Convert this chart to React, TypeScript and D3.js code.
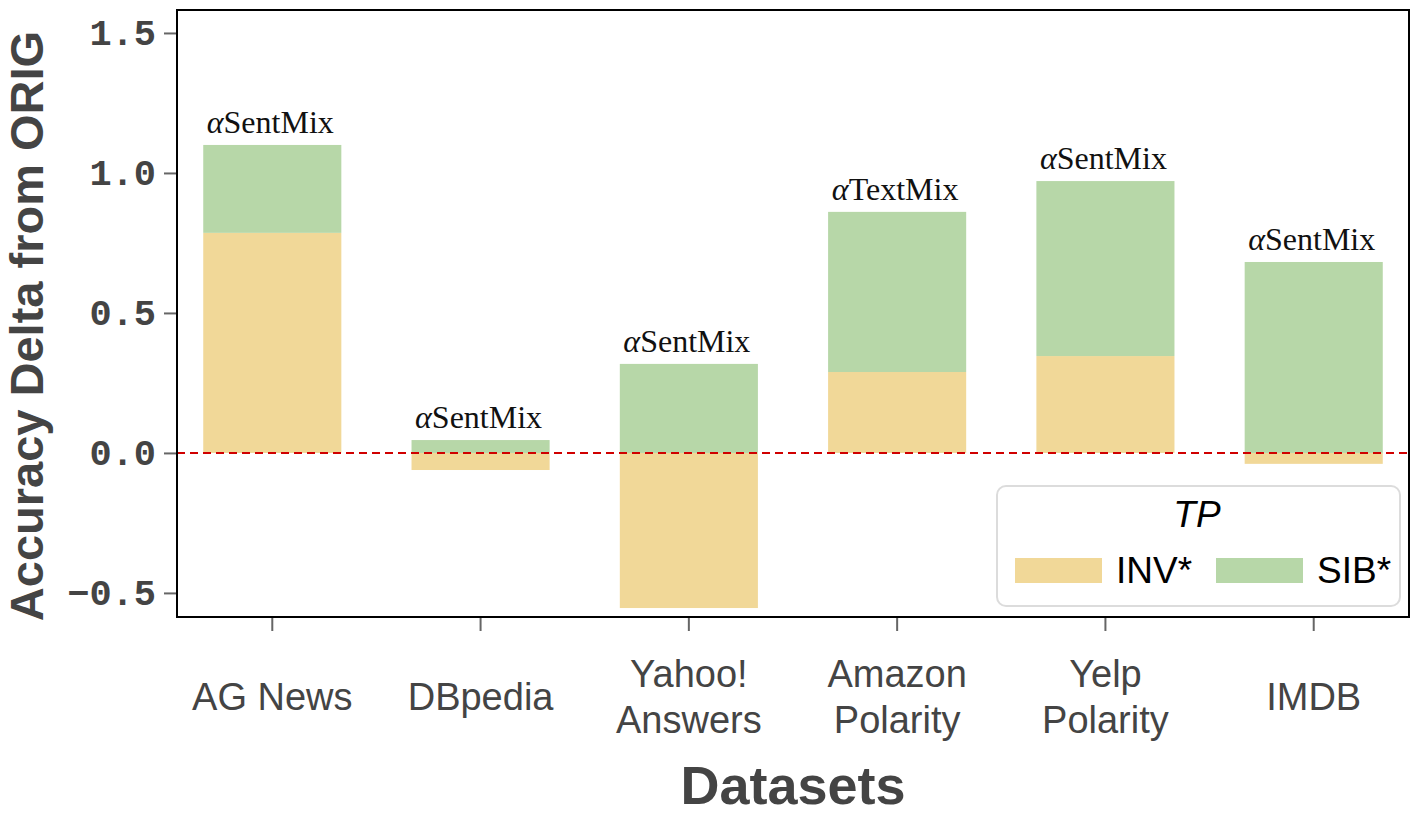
import { useRef, useEffect } from "react";
import * as d3 from "d3";

const datasets = ["AG News", "DBpedia", "Yahoo! Answers", "Amazon Polarity", "Yelp Polarity", "IMDB"];
const datasetLines = [["AG News"], ["DBpedia"], ["Yahoo!", "Answers"], ["Amazon", "Polarity"], ["Yelp", "Polarity"], ["IMDB"]];
const invValues = [0.786, -0.061, -0.554, 0.289, 0.346, -0.039];
const sibValues = [0.314, 0.046, 0.318, 0.572, 0.625, 0.682];
const bestMethods = ["SentMix", "SentMix", "SentMix", "TextMix", "SentMix", "SentMix"];
const yTicks = [-0.5, 0, 0.5, 1.0, 1.5];
const seriesKeys = ["INV*", "SIB*"];
const seriesColors = ["#f1d898", "#b7d7a8"];

export default function App() {
  const svgRef = useRef<SVGSVGElement>(null);

  useEffect(() => {
    if (!svgRef.current) return;
    const svg = d3.select(svgRef.current);
    svg.selectAll("*").remove();

    const W = 1418, H = 817;
    const left = 177, right = 1409, top = 10, bottom = 617;
    svg.attr("width", W).attr("height", H);

    const x = d3.scaleBand().domain(datasets).range([left, right]).paddingInner(0.337).paddingOuter(0.126);
    const y = d3.scaleLinear().domain([-0.586, 1.582]).range([bottom, top]);

    const rows = datasets.map((d, i) => ({ name: d, "INV*": invValues[i], "SIB*": sibValues[i] }));
    const stacked = d3.stack<any>().keys(seriesKeys).offset(d3.stackOffsetDiverging)(rows);
    const color = d3.scaleOrdinal<string>().domain(seriesKeys).range(seriesColors);

    // bars
    stacked.forEach(layer => {
      svg.append("g").selectAll("rect").data(layer).enter().append("rect")
        .attr("x", d => x(d.data.name)!)
        .attr("width", x.bandwidth())
        .attr("y", d => y(Math.max(d[0], d[1])))
        .attr("height", d => Math.abs(y(d[0]) - y(d[1])))
        .attr("fill", color(layer.key));
    });

    // zero line
    svg.append("line")
      .attr("x1", left).attr("x2", right)
      .attr("y1", y(0)).attr("y2", y(0))
      .attr("stroke", "#d00000").attr("stroke-width", 2).attr("stroke-dasharray", "8,5");

    // best-method labels above each bar
    const topOf = datasets.map((_, i) => Math.max(0, ...stacked.map(l => Math.max(l[i][0], l[i][1]))));
    const lbl = svg.append("g").selectAll("text").data(datasets).enter().append("text")
      .attr("x", d => x(d)! + x.bandwidth() / 2 - 2)
      .attr("y", (_, i) => y(topOf[i]) - 12)
      .attr("text-anchor", "middle")
      .attr("font-family", "'Liberation Serif', 'Times New Roman', serif")
      .attr("font-size", 32)
      .attr("fill", "#111");
    lbl.append("tspan").attr("font-style", "italic").text("α");
    lbl.append("tspan").text((_, i) => bestMethods[i]);

    // frame
    svg.append("rect")
      .attr("x", left).attr("y", top).attr("width", right - left).attr("height", bottom - top)
      .attr("fill", "none").attr("stroke", "#000").attr("stroke-width", 2);

    // y axis
    svg.append("g").attr("transform", `translate(${left - 1},0)`)
      .call(d3.axisLeft(y).tickValues(yTicks).tickSize(12).tickPadding(8).tickFormat(d => d3.format(".1f")(d as number)))
      .call(gEl => {
        gEl.select(".domain").remove();
        gEl.selectAll("line").attr("stroke", "#666").attr("stroke-width", 2);
        gEl.selectAll("text").attr("fill", "#444").attr("font-size", 37).attr("font-weight", "bold")
          .attr("font-family", "'Liberation Mono', 'Courier New', monospace");
      });

    // x axis
    const xAxis = svg.append("g").attr("transform", `translate(0,${bottom + 1})`)
      .call(d3.axisBottom(x).tickSize(13).tickFormat(() => ""))
      .call(gEl => {
        gEl.select(".domain").remove();
        gEl.selectAll("line").attr("stroke", "#666").attr("stroke-width", 2);
      });
    xAxis.selectAll(".tick").each(function (_, i) {
      const lines = datasetLines[i];
      const t = d3.select(this).append("text")
        .attr("text-anchor", "middle")
        .attr("fill", "#444")
        .attr("font-size", 38)
        .attr("font-family", "'Liberation Sans', Arial, sans-serif");
      lines.forEach((ln, k) => {
        const base = lines.length === 1 ? 710 : 687 + k * 46;
        t.append("tspan").attr("x", 0).attr("y", base - bottom - 1).text(ln);
      });
    });

    // axis titles
    svg.append("text")
      .attr("x", (left + right) / 2).attr("y", 804)
      .attr("text-anchor", "middle")
      .attr("font-family", "'Liberation Sans', Arial, sans-serif")
      .attr("font-weight", "bold").attr("font-size", 54).attr("fill", "#444")
      .text("Datasets");
    svg.append("text")
      .attr("transform", `translate(43,326) rotate(-90)`)
      .attr("text-anchor", "middle")
      .attr("font-family", "'Liberation Sans', Arial, sans-serif")
      .attr("font-weight", "bold").attr("font-size", 47).attr("fill", "#444")
      .text("Accuracy Delta from ORIG");

    // legend
    const lg = svg.append("g");
    lg.append("rect")
      .attr("x", 997).attr("y", 486).attr("width", 403).attr("height", 120).attr("rx", 9)
      .attr("fill", "#fff").attr("stroke", "#dcdcdc").attr("stroke-width", 2);
    lg.append("text")
      .attr("x", 1197).attr("y", 527).attr("text-anchor", "middle")
      .attr("font-family", "'Liberation Sans', Arial, sans-serif")
      .attr("font-style", "italic").attr("font-size", 37).attr("fill", "#000")
      .text("TP");
    const itemX = [1015, 1216];
    seriesKeys.forEach((k, i) => {
      lg.append("rect").attr("x", itemX[i]).attr("y", 558).attr("width", 87).attr("height", 25).attr("fill", color(k));
      lg.append("text").attr("x", itemX[i] + 101).attr("y", 583)
        .attr("font-family", "'Liberation Sans', Arial, sans-serif")
        .attr("font-size", 37).attr("fill", "#000")
        .text(k);
    });
  }, []);

  return <svg ref={svgRef} style={{ position: "absolute", left: 0, top: 0 }} />;
}
